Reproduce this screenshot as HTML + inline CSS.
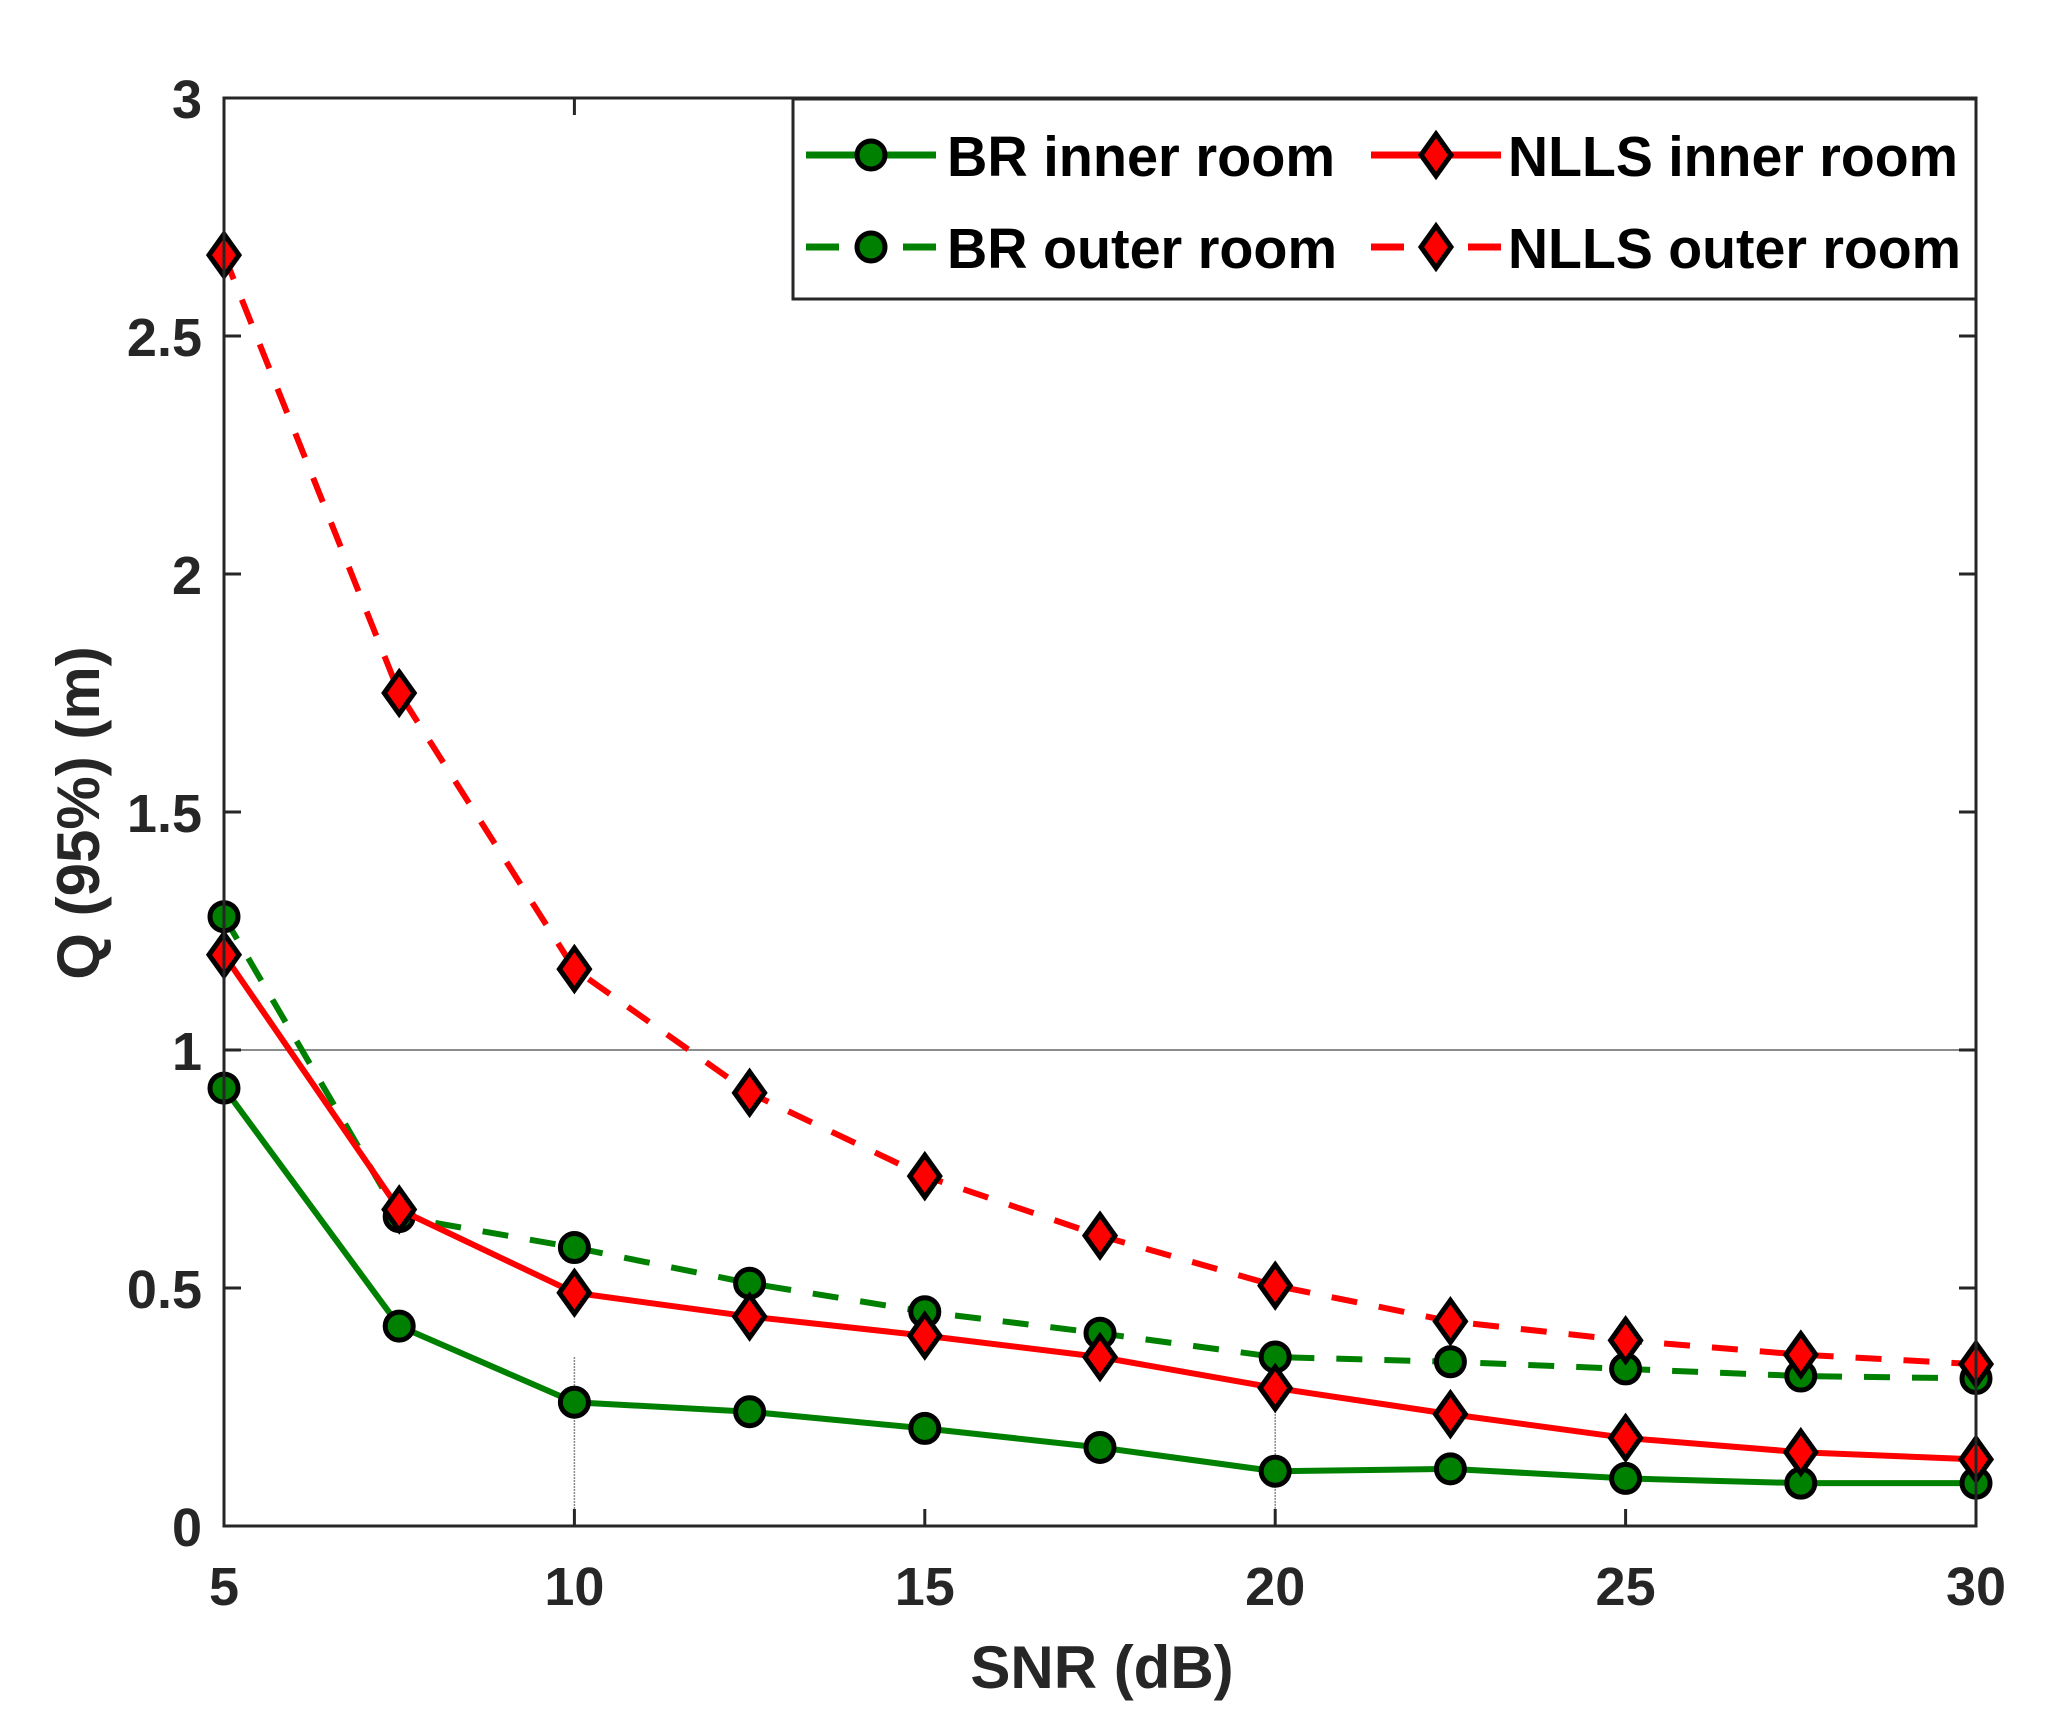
<!DOCTYPE html>
<html><head><meta charset="utf-8"><style>html,body{margin:0;padding:0;background:#fff}svg{display:block}</style></head>
<body>
<svg id="chart" width="2046" height="1730" xmlns="http://www.w3.org/2000/svg" font-family="'Liberation Sans', sans-serif" font-weight="bold">
<rect width="2046" height="1730" fill="#fff"/>
<g id="grid"></g>
<g id="series"></g>
<g id="axes"></g>
<g id="legend"></g>
</svg>
<script>
const snr = [5, 7.5, 10, 12.5, 15, 17.5, 20, 22.5, 25, 27.5, 30];
const brInner = [0.92, 0.42, 0.26, 0.24, 0.205, 0.165, 0.115, 0.12, 0.10, 0.09, 0.09];
const brOuter = [1.28, 0.65, 0.585, 0.51, 0.45, 0.405, 0.355, 0.345, 0.33, 0.315, 0.31];
const nllsInner = [1.2, 0.665, 0.49, 0.44, 0.40, 0.355, 0.29, 0.235, 0.185, 0.155, 0.14];
const nllsOuter = [2.67, 1.75, 1.17, 0.91, 0.735, 0.61, 0.505, 0.43, 0.39, 0.36, 0.34];
const xTicks = [5, 10, 15, 20, 25, 30];
const yTicks = [0, 0.5, 1, 1.5, 2, 2.5, 3];
const yTickLabels = ["0", "0.5", "1", "1.5", "2", "2.5", "3"];

const L = 224, R = 1976, T = 98, B = 1526;
const xS = v => L + (v - 5) / 25 * (R - L);
const yS = v => B - v / 3 * (B - T);
const NS = "http://www.w3.org/2000/svg";
function mk(tag, attrs, parent) {
  const e = document.createElementNS(NS, tag);
  for (const k in attrs) e.setAttribute(k, attrs[k]);
  parent.appendChild(e);
  return e;
}
const grid = document.getElementById('grid');
const axes = document.getElementById('axes');
const series = document.getElementById('series');
const legend = document.getElementById('legend');

let g1 = mk('line', {x1: L, x2: R, y1: yS(1), y2: yS(1), stroke: '#666', 'stroke-width': 1.5}, grid);


let g2 = mk('line', {x1: xS(10), x2: xS(10), y1: yS(0.355), y2: B, stroke: '#888', 'stroke-width': 1.5, 'stroke-dasharray': '2 1'}, grid);


let g3 = mk('line', {x1: xS(20), x2: xS(20), y1: yS(0.33), y2: B, stroke: '#888', 'stroke-width': 1.5, 'stroke-dasharray': '2 1'}, grid);



function circle(x, y, p) {
  return mk('circle', {cx: x, cy: y, r: 14, fill: '#008000', stroke: '#000', 'stroke-width': 5}, p);
}
function diamond(x, y, p) {
  return mk('polygon', {points: `${x},${y-21} ${x+15},${y} ${x},${y+21} ${x-15},${y}`, fill: '#ff0000', stroke: '#000', 'stroke-width': 5}, p);
}
const defs = [
  {name: 'br-inner-room', vals: brInner, color: '#008000', dash: null, m: 'c'},
  {name: 'br-outer-room', vals: brOuter, color: '#008000', dash: '26 22', m: 'c'},
  {name: 'nlls-inner-room', vals: nllsInner, color: '#ff0000', dash: null, m: 'd'},
  {name: 'nlls-outer-room', vals: nllsOuter, color: '#ff0000', dash: '26 22', m: 'd'}
];
defs.forEach(s => {
  const g = mk('g', {}, series);
  
  
  const pts = s.vals.map((v, i) => xS(snr[i]) + ',' + yS(v)).join(' ');
  const pl = mk('polyline', {points: pts, fill: 'none', stroke: s.color, 'stroke-width': 6}, g);
  if (s.dash) pl.setAttribute('stroke-dasharray', s.dash);
  
  
  s.vals.forEach((v, i) => {
    const m = s.m === 'c' ? circle(xS(snr[i]), yS(v), g) : diamond(xS(snr[i]), yS(v), g);
    
    
  });
});

const box = mk('rect', {x: L, y: T, width: R - L, height: B - T, fill: 'none', stroke: '#262626', 'stroke-width': 3}, axes);


xTicks.forEach(t => {
  const x = xS(t);
  mk('line', {x1: x, x2: x, y1: B, y2: B - 17, stroke: '#262626', 'stroke-width': 3}, axes);
  mk('line', {x1: x, x2: x, y1: T, y2: T + 17, stroke: '#262626', 'stroke-width': 3}, axes);
  const tx = mk('text', {x: x, y: 1605, 'text-anchor': 'middle', 'font-size': 54, fill: '#262626'}, axes);
  tx.textContent = t;
  
  
});
yTicks.forEach((t, i) => {
  const y = yS(t);
  mk('line', {x1: L, x2: L + 17, y1: y, y2: y, stroke: '#262626', 'stroke-width': 3}, axes);
  mk('line', {x1: R, x2: R - 17, y1: y, y2: y, stroke: '#262626', 'stroke-width': 3}, axes);
  const tx = mk('text', {x: 202, y: y + 20, 'text-anchor': 'end', 'font-size': 54, fill: '#262626'}, axes);
  tx.textContent = yTickLabels[i];
  
  
});
const xt = mk('text', {x: 1102, y: 1688, 'text-anchor': 'middle', 'font-size': 60, fill: '#262626'}, axes);
xt.textContent = 'SNR (dB)';


const yt = mk('text', {x: 0, y: 0, 'text-anchor': 'middle', 'font-size': 60, fill: '#262626', transform: 'translate(99,813) rotate(-90)'}, axes);
yt.textContent = 'Q (95%) (m)';



const lb = mk('rect', {x: 793, y: 99, width: 1183, height: 200, fill: '#fff', stroke: '#262626', 'stroke-width': 3}, legend);


const items = [
  {label: 'BR inner room', x: 806, tx: 947, tw: 388, y: 155, color: '#008000', dash: null, m: 'c'},
  {label: 'BR outer room', x: 806, tx: 947, tw: 390, y: 247, color: '#008000', dash: '33 64', m: 'c'},
  {label: 'NLLS inner room', x: 1371, tx: 1508, tw: 450, y: 155, color: '#ff0000', dash: null, m: 'd'},
  {label: 'NLLS outer room', x: 1371, tx: 1508, tw: 453, y: 247, color: '#ff0000', dash: '33 64', m: 'd'}
];
items.forEach(it => {
  const g = mk('g', {}, legend);
  
  
  const ln = mk('line', {x1: it.x, x2: it.x + 130, y1: it.y, y2: it.y, stroke: it.color, 'stroke-width': 7}, g);
  if (it.dash) ln.setAttribute('stroke-dasharray', it.dash);
  if (it.m === 'c') circle(it.x + 65, it.y, g); else diamond(it.x + 65, it.y, g);
  const t = mk('text', {x: it.tx, y: it.y + 21, 'font-size': 57, fill: '#000', textLength: it.tw, lengthAdjust: 'spacingAndGlyphs'}, g);
  t.textContent = it.label;
});
</script>
</body></html>
